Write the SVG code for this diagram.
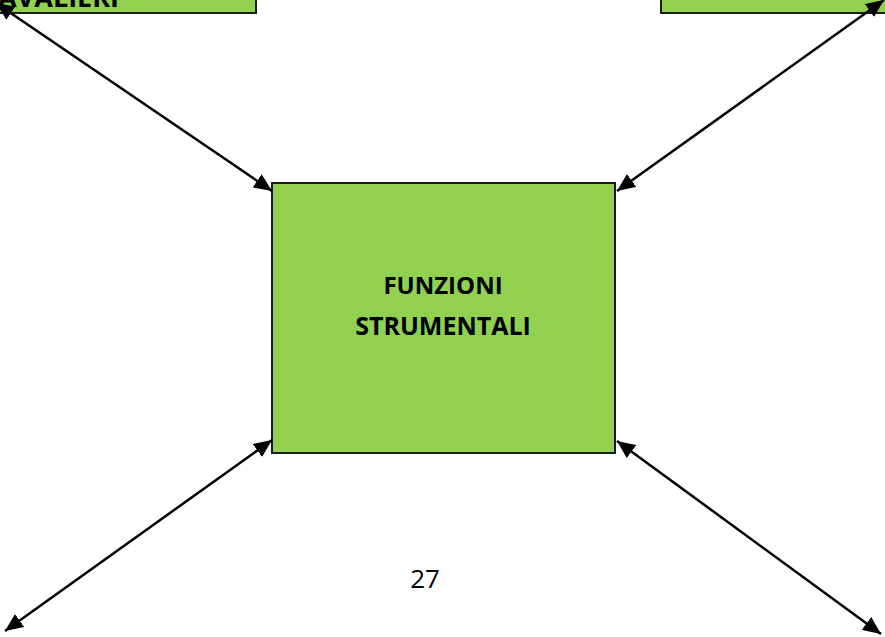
<svg xmlns="http://www.w3.org/2000/svg" width="885" height="637" viewBox="0 0 885 637">
<defs>
<marker id="ah" markerUnits="userSpaceOnUse" markerWidth="19" markerHeight="16" refX="18" refY="8" orient="auto-start-reverse" viewBox="0 0 19 16">
<path d="M0,0 L18,8 L0,16 Z" fill="#000"/>
</marker>
<style>
.box{fill:#92D050;stroke:#1a1a1a;stroke-width:2}
.lbl{font-family:"Open Sans","Liberation Sans",sans-serif;font-weight:700;font-size:24px;fill:#000}
.con{stroke:#000;stroke-width:2.5;fill:none;marker-start:url(#ah);marker-end:url(#ah)}
</style>
</defs>
<rect width="885" height="637" fill="#fff"/>
<g id="node-top-left">
<rect class="box" x="-20" y="-60" width="276" height="73"/>
<text class="lbl" x="119" y="7" text-anchor="end" style="font-size:27px">CAVALIERI</text>
</g>
<g id="node-top-right">
<rect class="box" x="661" y="-60" width="250" height="73"/>
</g>
<g id="node-center">
<rect class="box" x="272" y="183" width="343" height="270"/>
<text class="lbl" x="443" y="294" text-anchor="middle">FUNZIONI</text>
<text class="lbl" x="443" y="335" text-anchor="middle" style="font-size:25px">STRUMENTALI</text>
</g>
<g id="connectors">
<line class="con" x1="-4" y1="3" x2="272" y2="191"/>
<line class="con" x1="617" y1="191" x2="884" y2="0"/>
<line class="con" x1="272" y1="440" x2="5" y2="631"/>
<line class="con" x1="617" y1="441" x2="881" y2="634"/>
</g>
<text x="425" y="588" text-anchor="middle" font-family="'Open Sans','Liberation Sans',sans-serif" font-size="26" fill="#000">27</text>
</svg>
